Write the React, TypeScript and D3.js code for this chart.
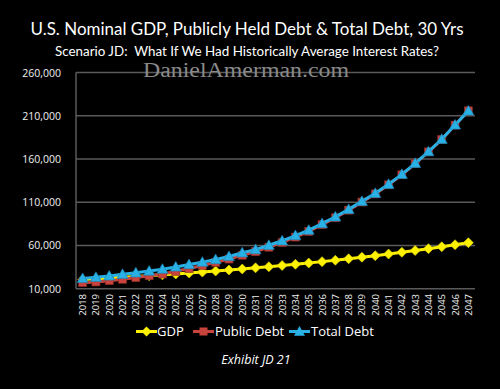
import React from "react";
import * as d3 from "d3";

const years = d3.range(2018, 2048).map(String);
const gdp = [20500, 21400, 22300, 23200, 24100, 25000, 26000, 27000, 28100, 29200, 30400, 31600, 32800, 34100, 35400, 36800, 38200, 39700, 41300, 42900, 44600, 46400, 48200, 50100, 52100, 54100, 56300, 58500, 60800, 63200];
const totalDebt = [21800, 23200, 24700, 26600, 28400, 30400, 32600, 35100, 37900, 40700, 43700, 47300, 51500, 55200, 60200, 65400, 71400, 77700, 85300, 93100, 101700, 111000, 120300, 130700, 142200, 155000, 168500, 182800, 199300, 215600];
const publicDebt = [17000, 17800, 19300, 20900, 22900, 25000, 27000, 30100, 33400, 36900, 40400, 44300, 48700, 52800, 58000, 63500, 69700, 76200, 84000, 92000, 100800, 110200, 119600, 130100, 141700, 154600, 168200, 182600, 199200, 215700];
const yTicks = [10000, 60000, 110000, 160000, 210000, 260000];
const seriesNames = ["GDP", "Public Debt", "Total Debt"];

const W = 500, H = 389;
const L = 76, R = 475, T = 72.5, B = 288.7;

export default function App() {
  const x = d3.scalePoint<string>().domain(years).range([L, R]).padding(0.5);
  const y = d3.scaleLinear().domain([10000, 260000]).range([B, T]);
  const line = d3.line<number>().x((_, i) => x(years[i])!).y((d) => y(d));
  const fmt = d3.format(",");

  const diamond = (cx: number, cy: number, s: number) =>
    `M${cx},${cy - s}L${cx + s},${cy}L${cx},${cy + s}L${cx - s},${cy}Z`;
  const tri = (cx: number, cy: number, s: number) =>
    `M${cx},${cy - s}L${cx + s},${cy + s * 0.75}L${cx - s},${cy + s * 0.75}Z`;

  const yellow = "#FFF200";
  const red = "#C9433D";
  const blue = "#29B1E6";

  const legendY = 331.5;
  return (
    <svg width={W} height={H} style={{ display: "block", position: "absolute", left: 0, top: 0, background: "#000" }}>
      <rect x={0} y={0} width={W} height={H} fill="#000" />
      <text x={247} y={35} fill="#fff" fontFamily="Lato, 'Open Sans', sans-serif" fontSize={18} textAnchor="middle" textLength={433} lengthAdjust="spacingAndGlyphs">
        U.S. Nominal GDP, Publicly Held Debt &amp; Total Debt, 30 Yrs
      </text>
      <text x={247} y={56} fill="#fff" fontFamily="Lato, 'Open Sans', sans-serif" fontSize={12.5} textAnchor="middle" textLength={384} lengthAdjust="spacingAndGlyphs" style={{ whiteSpace: "pre" }}>
        {"Scenario JD:  What If We Had Historically Average Interest Rates?"}
      </text>
      {/* grid */}
      {yTicks.map((t) => (
        <g key={t}>
          <line x1={L} x2={R} y1={y(t)} y2={y(t)} stroke="#5a5a5a" strokeWidth={1.5} />
          <text x={61} y={y(t) + 4} fill="#f0f0f0" fontFamily="'Open Sans', sans-serif" fontSize={10.5} textAnchor="end">
            {fmt(t)}
          </text>
        </g>
      ))}
      <text x={246} y={77} fill="#8a8a8a" fontFamily="'Liberation Serif', 'DejaVu Serif', serif" fontSize={20} textAnchor="middle" textLength={206} lengthAdjust="spacingAndGlyphs">
        DanielAmerman.com
      </text>
      <line x1={L} x2={L} y1={T} y2={B} stroke="#5a5a5a" strokeWidth={1.5} />
      {years.map((yr) => (
        <text key={yr} transform={`translate(${x(yr)! + 3.5},${B + 27}) rotate(-90)`} fill="#f0f0f0" fontFamily="'Open Sans', sans-serif" fontSize={9.5} textAnchor="start">
          {yr}
        </text>
      ))}
      {/* GDP */}
      <path d={line(gdp)!} fill="none" stroke={yellow} strokeWidth={3} />
      {gdp.map((v, i) => (
        <path key={i} d={diamond(x(years[i])!, y(v), 5)} fill={yellow} stroke="#d8d000" strokeWidth={0.6} />
      ))}
      {/* Public debt */}
      <path d={line(publicDebt)!} fill="none" stroke={red} strokeWidth={3} />
      {publicDebt.map((v, i) => (
        <rect key={i} x={x(years[i])! - 4} y={y(v) - 4} width={8} height={8} fill={red} stroke="#8a2a25" strokeWidth={0.6} />
      ))}
      {/* Total debt */}
      <path d={line(totalDebt)!} fill="none" stroke={blue} strokeWidth={3} />
      {totalDebt.map((v, i) => (
        <path key={i} d={tri(x(years[i])!, y(v), 5.5)} fill={blue} stroke="#1a7fb0" strokeWidth={0.6} />
      ))}
      {/* legend */}
      <g fontFamily="'Open Sans', sans-serif" fontSize={13} fill="#fff">
        <line x1={136} x2={157} y1={legendY} y2={legendY} stroke={yellow} strokeWidth={3} />
        <path d={diamond(146.5, legendY, 5)} fill={yellow} />
        <text x={157} y={legendY + 4.5}>{seriesNames[0]}</text>
        <line x1={193} x2={214} y1={legendY} y2={legendY} stroke={red} strokeWidth={3} />
        <rect x={199.5} y={legendY - 4} width={8} height={8} fill={red} />
        <text x={215} y={legendY + 4.5}>{seriesNames[1]}</text>
        <line x1={289} x2={310} y1={legendY} y2={legendY} stroke={blue} strokeWidth={3} />
        <path d={tri(299.5, legendY, 5.5)} fill={blue} />
        <text x={311} y={legendY + 4.5}>{seriesNames[2]}</text>
      </g>
      <text x={256} y={364} fill="#fff" fontFamily="'Open Sans', sans-serif" fontSize={12.5} fontStyle="italic" textAnchor="middle">
        Exhibit JD 21
      </text>
    </svg>
  );
}
